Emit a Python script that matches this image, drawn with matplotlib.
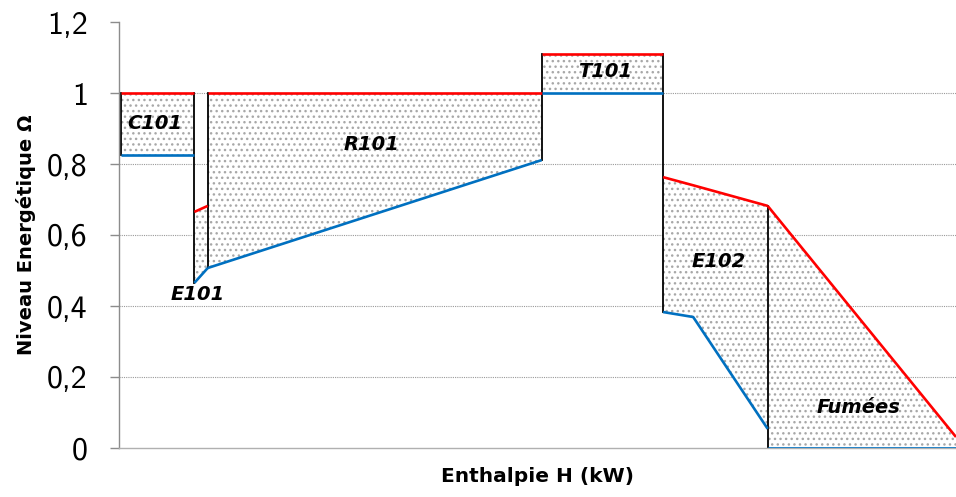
import matplotlib
matplotlib.use("Agg")
import matplotlib.pyplot as plt
from matplotlib.ticker import FuncFormatter

# enthalpy (kW, arbitrary scale) and energy levels for each block
c101_h = [2, 90]
c101_hot = [1.0, 1.0]
c101_cold = [0.825, 0.825]

e101_h = [90, 106]
e101_hot = [0.665, 0.682]
e101_cold = [0.465, 0.507]

r101_h = [106, 505]
r101_hot = [1.0, 1.0]
r101_cold = [0.507, 0.811]

t101_h = [505, 650]
t101_hot = [1.11, 1.11]
t101_cold = [1.0, 1.0]

e102_h = [650, 686, 775]
e102_hot = [0.763, 0.740, 0.682]
e102_cold = [0.383, 0.369, 0.054]

fum_h = [775, 1000]
fum_hot = [0.682, 0.031]
fum_cold = [0.0, 0.0]

blocks = [
    ("C101", c101_h, c101_hot, c101_cold, (43, 0.913)),
    ("E101", e101_h, e101_hot, e101_cold, (94, 0.431)),
    ("R101", r101_h, r101_hot, r101_cold, (302, 0.854)),
    ("T101", t101_h, t101_hot, t101_cold, (581, 1.06)),
    ("E102", e102_h, e102_hot, e102_cold, (716, 0.524)),
    ("Fumées", fum_h, fum_hot, fum_cold, (883, 0.115)),
]

# black separators: (h, y_from, y_to)
separators = [
    (2, 0.825, 1.0),
    (90, 0.465, 1.0),
    (106, 0.507, 1.0),
    (505, 0.811, 1.11),
    (650, 0.383, 1.11),
    (775, 0.0, 0.682),
]

y_ticks = [0, 0.2, 0.4, 0.6, 0.8, 1.0, 1.2]

RED = '#FF0000'
BLUE = '#0070C0'

plt.rcParams['hatch.linewidth'] = 1.0

fig = plt.figure(figsize=(9.56, 4.97), dpi=100)
ax = fig.add_axes([119 / 956, 49 / 497, 837 / 956, 426 / 497])

for name, h, hot, cold, pos in blocks:
    ax.fill_between(h, cold, hot, facecolor='white', edgecolor='#a8a8a8',
                    linewidth=0, hatch='...', zorder=1)
    ax.plot(h, hot, color=RED, lw=1.9, zorder=3, solid_capstyle='butt')
    ax.plot(h, cold, color=BLUE, lw=1.9, zorder=3, solid_capstyle='butt')
    ax.text(pos[0], pos[1], name, ha='center', va='center', fontsize=14,
            fontweight='bold', fontstyle='italic', zorder=5)

for h, y0, y1 in separators:
    ax.plot([h, h], [y0, y1], color='black', lw=1.3, zorder=2)

ax.set_xlim(0, 1000)
ax.set_ylim(0, 1.2)
ax.set_yticks(y_ticks)
ax.yaxis.set_major_formatter(FuncFormatter(lambda v, p: f"{v:g}".replace('.', ',')))
ax.set_xticks([])

for y in y_ticks[1:-1]:
    ax.axhline(y, color='#9a9a9a', lw=0.8, ls=(0, (1, 1)), zorder=0)

for s in ['top', 'right']:
    ax.spines[s].set_visible(False)
ax.spines['left'].set_color('#8c8c8c')
ax.spines['bottom'].set_color('#b0b0b0')
ax.spines['left'].set_linewidth(1.0)
ax.spines['bottom'].set_linewidth(1.0)

ax.tick_params(axis='y', direction='out', length=6.5, width=1.0, color='#8c8c8c',
               pad=16, labelsize=23)
for lbl in ax.get_yticklabels():
    lbl.set_family('cmss10')

ax.set_xlabel('Enthalpie H (kW)', fontsize=14.5, fontweight='bold', labelpad=14)
ax.set_ylabel('Niveau Energétique Ω', fontsize=14, fontweight='bold', labelpad=8)

fig.savefig('out.png', dpi=100)
